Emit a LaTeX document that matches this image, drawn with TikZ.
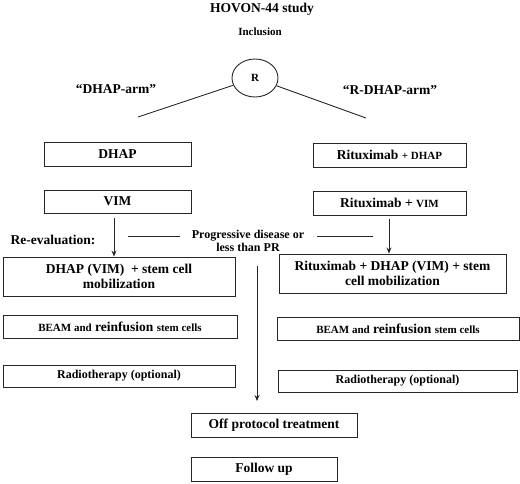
\documentclass[tikz,border=0pt]{standalone}
\usepackage{fontspec}
\setmainfont{Liberation Serif}
\usetikzlibrary{arrows.meta,shapes.geometric}
\newcommand{\fbig}{\fontsize{13.5}{15}\selectfont}
\newcommand{\fsm}{\fontsize{11}{13}\selectfont}
\newcommand{\fmid}{\fontsize{12}{13}\selectfont}
\begin{document}
\begin{tikzpicture}[x=1pt,y=-1pt, font=\bfseries\fbig,
 box/.style={draw=black!85, line width=0.9pt, inner sep=0pt, anchor=center, align=center},
 lbl/.style={inner sep=0pt, anchor=center, align=center},
 conn/.style={draw=black!85, line width=0.9pt},
 arr/.style={conn, -{Stealth[length=6pt,width=5pt]}}]
\useasboundingbox (0,0) rectangle (520,483);
% titles
\node[lbl] (title) at (262,9) {HOVON-44 study};
\node[lbl, font=\bfseries\fsm] (incl) at (260,32) {Inclusion};
\node[ellipse, draw=black!85, line width=0.9pt, minimum width=46pt, minimum height=38pt, inner sep=0pt, font=\bfseries\fsm] (R) at (255,78) {R};
\node[lbl] (armL) at (116,89) {``DHAP-arm''};
\node[lbl] (armR) at (390,90) {``R-DHAP-arm''};
\coordinate (lA) at (138,117);
\coordinate (rA) at (366,118);
\draw[conn] (R) -- (lA);
\draw[conn] (R) -- (rA);
% left arm
\node[box, minimum width=147pt, minimum height=24pt] (dhapL) at (117.5,154) {DHAP};
\node[box, minimum width=147pt, minimum height=23pt] (vimL) at (117.5,201.5) {VIM};
\node[box, minimum width=232pt, minimum height=39pt] (mobL) at (119,276.5) {DHAP (VIM)\ \ + stem cell\\mobilization};
\node[box, minimum width=234pt, minimum height=23pt] (beamL) at (120,326.5) {{\fsm BEAM and} reinfusion {\fsm stem cells}};
\node[box, minimum width=232pt, minimum height=22pt, font=\bfseries\fmid] (radL) at (119,376) {Radiotherapy (optional)};
% right arm
\node[box, minimum width=153pt, minimum height=24pt] (dhapR) at (389.5,155) {Rituximab {\fsm + DHAP}};
\node[box, minimum width=153pt, minimum height=24pt] (vimR) at (389.5,203) {Rituximab + {\fsm VIM}};
\node[box, minimum width=227pt, minimum height=39pt] (mobR) at (392.5,273.5) {Rituximab + DHAP (VIM) + stem\\cell mobilization};
\node[box, minimum width=242pt, minimum height=23pt] (beamR) at (398,328.5) {{\fsm BEAM and} reinfusion {\fsm stem cells}};
\node[box, minimum width=239pt, minimum height=22pt, font=\bfseries\fmid] (radR) at (397.5,381) {Radiotherapy (optional)};
% bottom
\node[box, minimum width=166pt, minimum height=24pt] (off) at (274,425) {Off protocol treatment};
\node[box, minimum width=146pt, minimum height=24pt] (follow) at (264,469) {Follow up};
% re-evaluation
\node[lbl] (reev) at (53,240) {Re-evaluation:};
\node[lbl, font=\bfseries\fmid] (prog) at (248,241) {Progressive disease or\\[0.5pt]less than PR};
\coordinate (h1a) at (128,236);
\coordinate (h1b) at (180,236);
\coordinate (h2a) at (317,236);
\coordinate (h2b) at (373,236);
\draw[conn] (h1a) -- (h1b);
\draw[conn] (h2a) -- (h2b);
% arrows
\coordinate (aL) at (114,218);
\coordinate (aR) at (389,219);
\draw[arr] (aL) -- (aL |- mobL.north);
\draw[arr] (aR) -- (aR |- mobR.north);
\coordinate (pS) at (257,266);
\coordinate (pE) at (257,401);
\draw[arr] (pS) -- (pE);
\end{tikzpicture}
\end{document}
